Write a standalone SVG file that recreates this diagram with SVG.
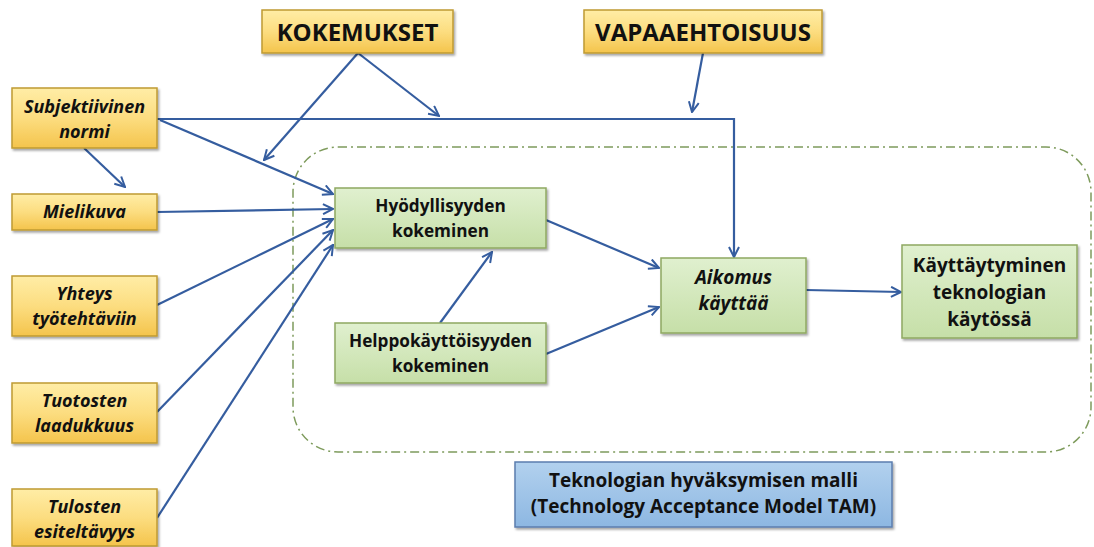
<svg xmlns="http://www.w3.org/2000/svg" width="1094" height="547" viewBox="0 0 1094 547">
  <style>
    .lbl { font-family: "Open Sans", "Liberation Sans", sans-serif; font-weight: bold; fill: #111; text-anchor: middle; }
    .it { font-style: italic; }
    .yel { fill: url(#gYel); stroke: #BF9A33; stroke-width: 1.5; filter: url(#sh); }
    .grn { fill: url(#gGrn); stroke: #8FA862; stroke-width: 1.5; filter: url(#sh); }
    .blu { fill: url(#gBlu); stroke: #5B7DAE; stroke-width: 1.5; filter: url(#sh); }
    .con { fill: none; stroke: #355D9F; stroke-width: 2.2; marker-end: url(#arr); }
    .frame { fill: none; stroke: #7E9B5C; stroke-width: 1.5; stroke-dasharray: 9 4 2 4; }
  </style>
  <defs>
    <linearGradient id="gYel" x1="0" y1="0" x2="0" y2="1">
      <stop offset="0" stop-color="#FFEDA6"/>
      <stop offset="0.5" stop-color="#FCDD80"/>
      <stop offset="1" stop-color="#F4C44C"/>
    </linearGradient>
    <linearGradient id="gGrn" x1="0" y1="0" x2="0" y2="1">
      <stop offset="0" stop-color="#E0F0CF"/>
      <stop offset="1" stop-color="#C6DFA8"/>
    </linearGradient>
    <linearGradient id="gBlu" x1="0" y1="0" x2="0" y2="1">
      <stop offset="0" stop-color="#B2D1EE"/>
      <stop offset="1" stop-color="#8DB7E2"/>
    </linearGradient>
    <filter id="sh" x="-10%" y="-10%" width="125%" height="135%">
      <feDropShadow dx="1.5" dy="2" stdDeviation="1.2" flood-color="#000" flood-opacity="0.35"/>
    </filter>
    <marker id="arr" viewBox="0 0 12 12" refX="11" refY="6" markerWidth="12" markerHeight="12" markerUnits="userSpaceOnUse" orient="auto">
      <path d="M1,1 L11,6 L1,11" fill="none" stroke="#355D9F" stroke-width="2" stroke-linejoin="miter"/>
    </marker>
  </defs>

  <!-- dash-dot frame around the TAM core -->
  <rect class="frame" x="293" y="147" width="798" height="305" rx="45" ry="45"/>

  <!-- connectors -->
  <g id="connectors">
    <line class="con" x1="358" y1="53" x2="264" y2="160"/>
    <line class="con" x1="358" y1="53" x2="439" y2="116"/>
    <line class="con" x1="703" y1="53" x2="692" y2="112"/>
    <polyline class="con" points="157,119 734,119 734,257"/>
    <line class="con" x1="160" y1="120" x2="333" y2="194"/>
    <line class="con" x1="84" y1="148" x2="125" y2="187"/>
    <line class="con" x1="157" y1="212" x2="333" y2="209"/>
    <line class="con" x1="157" y1="305" x2="333" y2="219"/>
    <line class="con" x1="157" y1="412" x2="333" y2="230"/>
    <line class="con" x1="157" y1="518" x2="333" y2="245"/>
    <line class="con" x1="546" y1="220" x2="659" y2="268"/>
    <line class="con" x1="546" y1="354" x2="659" y2="307"/>
    <line class="con" x1="440" y1="323" x2="492" y2="252"/>
    <line class="con" x1="806" y1="290" x2="901" y2="292"/>
  </g>

  <!-- external factors -->
  <g id="kokemukset">
    <rect class="yel" x="262" y="10" width="191" height="43"/>
    <text class="lbl" x="357.500" y="41" font-size="24">KOKEMUKSET</text>
  </g>
  <g id="vapaaehtoisuus">
    <rect class="yel" x="584" y="10" width="238" height="43"/>
    <text class="lbl" x="703" y="41" font-size="24">VAPAAEHTOISUUS</text>
  </g>
  <g id="subjektiivinen-normi">
    <rect class="yel" x="12" y="88" width="145" height="60"/>
    <text class="lbl it" x="84.500" y="113" font-size="18">Subjektiivinen</text>
    <text class="lbl it" x="84.500" y="138" font-size="18">normi</text>
  </g>
  <g id="mielikuva">
    <rect class="yel" x="12" y="194" width="145" height="36"/>
    <text class="lbl it" x="84.500" y="218" font-size="18">Mielikuva</text>
  </g>
  <g id="yhteys">
    <rect class="yel" x="12" y="276" width="145" height="60"/>
    <text class="lbl it" x="84.500" y="300" font-size="18">Yhteys</text>
    <text class="lbl it" x="84.500" y="325" font-size="18">työtehtäviin</text>
  </g>
  <g id="tuotosten-laadukkuus">
    <rect class="yel" x="12" y="383" width="145" height="60"/>
    <text class="lbl it" x="84.500" y="407" font-size="18">Tuotosten</text>
    <text class="lbl it" x="84.500" y="432" font-size="18">laadukkuus</text>
  </g>
  <g id="tulosten-esiteltavyys">
    <rect class="yel" x="12" y="489" width="145" height="57"/>
    <text class="lbl it" x="84.500" y="513" font-size="18">Tulosten</text>
    <text class="lbl it" x="84.500" y="538" font-size="18">esiteltävyys</text>
  </g>

  <!-- TAM core -->
  <g id="hyodyllisyys">
    <rect class="grn" x="335" y="188" width="211" height="60"/>
    <text class="lbl" x="440.500" y="212" font-size="17.200">Hyödyllisyyden</text>
    <text class="lbl" x="440.500" y="237" font-size="17.200">kokeminen</text>
  </g>
  <g id="helppokayttoisyys">
    <rect class="grn" x="335" y="323" width="211" height="60"/>
    <text class="lbl" x="440.500" y="347" font-size="17.200">Helppokäyttöisyyden</text>
    <text class="lbl" x="440.500" y="372" font-size="17.200">kokeminen</text>
  </g>
  <g id="aikomus">
    <rect class="grn" x="661" y="258" width="145" height="75"/>
    <text class="lbl it" x="733.500" y="284" font-size="19">Aikomus</text>
    <text class="lbl it" x="733.500" y="310" font-size="19">käyttää</text>
  </g>
  <g id="kayttaytyminen">
    <rect class="grn" x="902" y="245" width="175" height="93"/>
    <text class="lbl" x="989.500" y="272" font-size="19">Käyttäytyminen</text>
    <text class="lbl" x="989.500" y="299" font-size="19">teknologian</text>
    <text class="lbl" x="989.500" y="326" font-size="19">käytössä</text>
  </g>

  <!-- caption box -->
  <g id="tam-legend">
    <rect class="blu" x="515" y="462" width="377" height="65"/>
    <text class="lbl" x="703.500" y="487" font-size="19">Teknologian hyväksymisen malli</text>
    <text class="lbl" x="703.500" y="513" font-size="19">(Technology Acceptance Model TAM)</text>
  </g>
</svg>
